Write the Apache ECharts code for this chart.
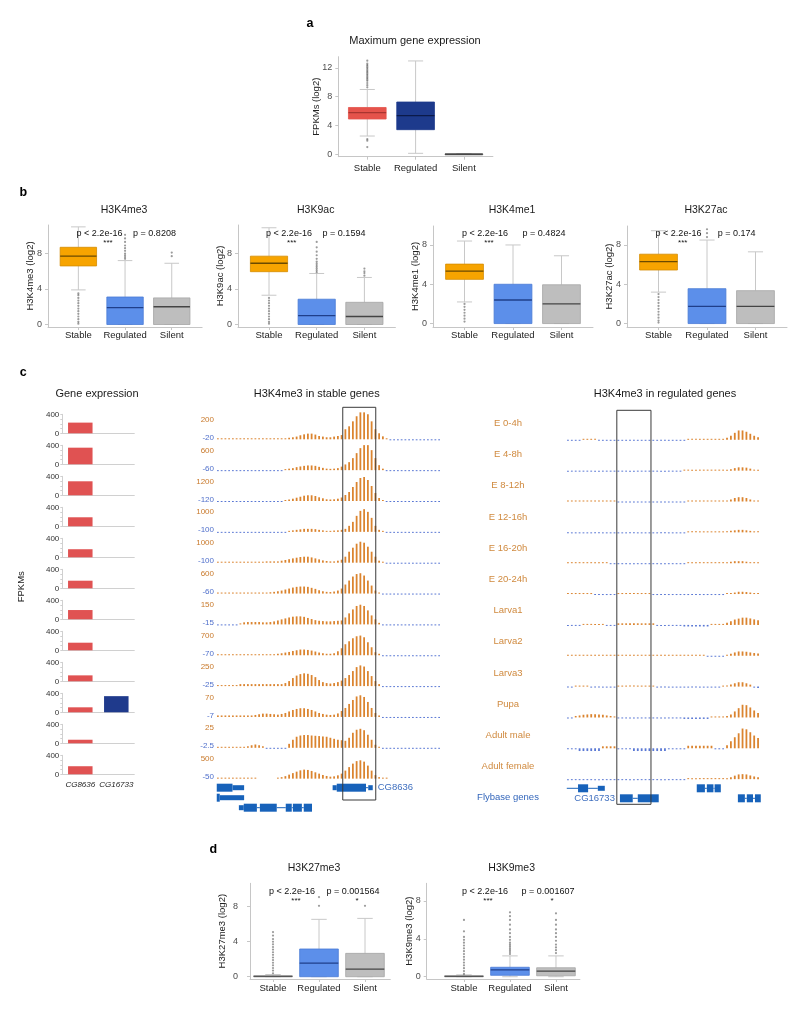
<!DOCTYPE html>
<html><head><meta charset="utf-8">
<script src="https://cdn.jsdelivr.net/npm/echarts@6/dist/echarts.min.js"></script>
<style>html,body{margin:0;padding:0;background:#fff}#c{width:800px;height:1011px}</style>
</head><body><div id="c"></div>
<script>
const FONT = '"Liberation Sans", Arial, Helvetica, sans-serif';

// ---------------- DATA ----------------
const boxCategories = ['Stable', 'Regulated', 'Silent'];

// panel a  [min, Q1, median, Q3, max]
const aTitle = 'Maximum gene expression';
const aStats = [[2.54, 4.9, 5.78, 6.5, 9.0], [0.14, 3.42, 5.36, 7.26, 12.96], [0, 0.01, 0.03, 0.06, 0.1]];
const aOutliers = [[9.3, 9.6, 9.9, 10.2, 10.4, 10.6, 10.8, 11.0, 11.2, 11.4, 11.6, 11.8, 12.0, 12.2, 12.4, 12.6, 13.0, 2.1, 1.9, 1.0], [], []];

// panel b
const bMarks = ['H3K4me3', 'H3K9ac', 'H3K4me1', 'H3K27ac'];
const bStats = [
  [[3.9, 6.6, 7.7, 8.7, 11.0], [0, 0, 1.9, 3.1, 7.2], [0, 0, 2.0, 3.0, 6.9]],
  [[3.3, 5.95, 6.9, 7.7, 10.9], [0, 0, 1.0, 2.85, 5.75], [0, 0, 0.9, 2.5, 5.3]],
  [[2.2, 4.5, 5.33, 6.05, 8.4], [0, 0, 2.4, 4.0, 8.0], [0, 0, 2.0, 3.95, 6.9]],
  [[3.2, 5.45, 6.3, 7.06, 9.45], [0, 0, 1.75, 3.55, 8.5], [0, 0, 1.75, 3.35, 7.3]]
];
const bOutliers = [
  [[3.5, 3.3, 3.0, 2.7, 2.4, 2.1, 1.8, 1.5, 1.2, 0.9, 0.6, 0.3, 0.1], [7.4, 7.6, 7.8, 8.0, 8.3, 8.6, 8.9, 9.3, 9.7, 10.1], [7.7, 8.1]],
  [[3.0, 2.7, 2.4, 2.1, 1.8, 1.5, 1.2, 0.9, 0.6, 0.3, 0.1], [5.9, 6.1, 6.3, 6.5, 6.7, 6.9, 7.1, 7.4, 7.8, 8.2, 8.7, 9.3], [5.5, 5.8, 6.0, 6.3]],
  [[2.0, 1.7, 1.4, 1.1, 0.8, 0.5, 0.2], [], []],
  [[3.0, 2.7, 2.4, 2.1, 1.8, 1.5, 1.2, 0.9, 0.6, 0.3, 0.1], [8.8, 9.2, 9.6], []]
];
const bPvalues = [['p < 2.2e-16', 'p = 0.8208'], ['p < 2.2e-16', 'p = 0.1594'], ['p < 2.2e-16', 'p = 0.4824'], ['p < 2.2e-16', 'p = 0.174']];
const bStars = ['***', '***', '***', '***'];

// panel c
const stages = ['E 0-4h', 'E 4-8h', 'E 8-12h', 'E 12-16h', 'E 16-20h', 'E 20-24h', 'Larva1', 'Larva2', 'Larva3', 'Pupa', 'Adult male', 'Adult female'];
const exprGenes = ['CG8636', 'CG16733'];
const exprCG8636 = [225, 350, 295, 190, 170, 160, 195, 160, 125, 105, 75, 170];
const exprCG16733 = [0, 0, 0, 0, 0, 0, 0, 0, 0, 340, 0, 0];
const trackMax = [200, 600, 1200, 1000, 1000, 600, 150, 700, 250, 70, 25, 500];
const trackMin = [-20, -60, -120, -100, -100, -60, -15, -70, -25, -7, -2.5, -50];

const stableTracks = [
 [4,4,4,4,4,4,4,4,4,4, 4,4,4,4,4,4,4,4,4,13, 17,23,34,42,48,48,40,28,23,17, 17,23,28,36,85,110,152,195,228,228, 212,152,85,51,25,8,-4,-4,-4,-4, -4,-4,-4,-4,-4,-4,-4,-4,-4,-4],
 [-12,-12,-12,-12,-12,-12,-12,-12,-12,-12, -12,-12,-12,-12,-12,-12,-12,-12,25,38, 51,76,94,109,119,119,109,84,58,38, 33,38,51,89,145,203,305,432,559,635, 635,508,305,127,38,-12,-12,-12,-12,-12, -12,-12,-12,-12,-12,-12,-12,-12,-12,-12],
 [-25,-25,-25,-25,-25,-25,-25,-25,-25,-25, -25,-25,-25,-25,-25,-25,-25,-25,51,76, 117,168,218,269,290,290,254,188,137,86, 76,86,117,178,305,457,711,965,1168,1219, 1067,762,406,152,51,-25,-25,-25,-25,-25, -25,-25,-25,-25,-25,-25,-25,-25,-25,-25],
 [-21,-21,-21,-21,-21,-21,-21,-21,-21,-21, -21,-21,-21,-21,-21,-21,-21,-21,-21,42, 63,85,106,127,127,127,114,85,63,42, 42,55,63,85,127,254,423,677,888,960, 846,592,254,85,42,-21,-21,-21,-21,-21, -21,-21,-21,-21,-21,-21,-21,-21,-21,-21],
 [42,42,42,42,42,42,42,42,42,42, 42,42,42,55,55,55,55,85,114,148, 182,212,241,254,254,224,182,140,97,72, 55,55,85,127,254,465,635,804,888,846, 677,465,254,85,42,-21,-21,-21,-21,-21, -21,-21,-21,-21,-21,-21,-21,-21,-21,-21],
 [25,25,25,25,25,25,25,25,25,25, 25,25,25,25,33,43,58,76,102,127, 152,170,178,178,170,145,119,84,58,43, 38,51,76,127,229,330,432,495,516,457, 330,203,76,25,-12,-12,-12,-12,-12,-12, -12,-12,-12,-12,-12,-12,-12,-12,-12,-12],
 [-3,-3,-3,-3,-3,-3,6,13,15,15, 15,15,13,13,15,19,25,32,38,44, 49,51,51,48,41,34,27,23,21,19, 19,21,23,25,44,70,95,117,125,117, 89,57,32,10,-3,-3,-3,-3,-3,-3, -3,-3,-3,-3,-3,-3,-3,-3,-3,-3],
 [15,15,15,15,15,15,15,15,15,15, 15,15,15,15,15,30,44,59,80,98, 127,148,169,169,157,139,110,80,59,44, 44,59,118,207,326,414,503,562,583,533, 385,237,89,44,-15,-15,-15,-15,-15,-15, -15,-15,-15,-15,-15,-15,-15,-15,-15,-15],
 [5,5,5,5,5,5,21,21,21,21, 21,21,21,21,21,21,21,21,32,53, 85,111,127,135,130,117,95,64,42,32, 27,32,42,58,85,117,159,201,219,207, 159,106,53,21,-5,-5,-5,-5,-5,-5, -5,-5,-5,-5,-5,-5,-5,-5,-5,-5],
 [4.4,4.4,4.4,4.4,4.4,4.4,4.4,4.4,4.4,4.4, 5.9,8,9.8,9.8,8.9,8,6.8,8.9,11.8,16.3, 20.7,23.7,25.8,25.8,23.7,20.7,16.3,11.8,8.9,6.8, 5.9,6.8,10.4,17.8,26.6,38.5,50.3,60.7,64.2,59.2, 44.4,26.6,11.8,4.4,-1.5,-1.5,-1.5,-1.5,-1.5,-1.5, -1.5,-1.5,-1.5,-1.5,-1.5,-1.5,-1.5,-1.5,-1.5,-1.5],
 [0.5,0.5,0.5,0.5,0.5,0.5,0.5,0.5,1.6,2.7, 3.5,2.7,1.6,-0.5,-0.5,-0.5,-0.5,-0.5,-0.5,4.2, 8.5,11.7,13,13.5,13.5,13,12.7,12.4,12,11.7, 10.6,9.5,8.5,8,7.4,10.6,15.9,19.1,20.1,18.6, 13.8,8.5,3.2,1.1,-0.5,-0.5,-0.5,-0.5,-0.5,-0.5, -0.5,-0.5,-0.5,-0.5,-0.5,-0.5,-0.5,-0.5,-0.5,-0.5],
 [10,10,10,10,10,10,10,10,10,10, 10,null,null,null,null,null,21,32,53,85, 117,148,176,191,184,163,134,106,78,57, 42,49,70,106,170,244,318,371,388,360, 276,170,74,32,10,10,null,null,null,null, null,null,null,null,null,null,null,null,null,null]
];

const regulatedTracks = [
 [-4,-4,-4,-4,4,8,8,4,-4,-4, -4,-4,-4,-4,-4,-4,-4,-4,-4,-4, -4,-4,-4,-4,-4,-4,-4,-4,-4,-4, -4,4,4,4,4,4,4,4,4,4, 4,17,34,59,79,79,68,51,34,21],
 [-12,-12,-12,-12,-12,-12,-12,-12,-12,-12, -12,-12,-12,-12,-12,-12,-12,-12,-12,-12, -12,-12,-12,-12,-12,-12,-12,-12,-12,-12, 12,12,12,12,12,12,12,12,12,12, 12,25,38,64,84,84,76,51,25,12],
 [25,25,25,25,25,25,25,25,25,25, 25,25,25,-25,-25,-25,-25,-25,-25,-25, -25,-25,-25,-25,-25,-25,-25,-25,-25,-25, -25,25,25,25,25,25,25,25,25,25, 25,51,102,178,218,218,178,102,51,25],
 [-21,-21,-21,-21,-21,-21,-21,-21,-21,-21, -21,-21,-21,-21,-21,-21,-21,-21,-21,-21, -21,-21,-21,-21,-21,-21,-21,-21,-21,-21, -21,21,21,21,21,21,21,21,21,21, 21,42,63,85,106,106,85,63,42,21],
 [30,30,30,30,30,30,30,30,30,30, 30,-21,-21,-21,-21,-21,-21,-21,-21,-21, -21,-21,-21,-21,-21,-21,-21,-21,-21,-21, -21,21,21,21,21,21,21,21,21,21, 21,42,63,85,85,85,63,42,21,21],
 [15,15,15,15,15,15,15,-12,-12,-12, -12,-12,-12,12,12,12,12,12,12,12, 12,12,-12,-12,-12,-12,-12,-12,-12,-12, -12,-12,-12,-12,-12,-12,-12,-12,-12,-12, -12,12,25,38,58,58,51,38,25,12],
 [-3,-3,-3,-3,6,6,6,6,6,6, -3,-3,-3,10,10,10,10,10,10,10, 10,10,10,-3,-3,-3,-3,-3,-3,-3, -10,-10,-10,-10,-10,-10,-10,5,5,5, 5,13,23,34,40,46,46,41,35,29],
 [15,15,15,15,15,15,15,15,15,15, 15,15,15,15,15,15,15,15,15,15, 15,15,15,15,15,15,15,15,15,15, 15,15,15,15,15,15,-15,-15,-15,-15, -15,30,59,98,127,127,118,98,80,68],
 [-5,-5,5,5,5,5,-5,-5,-5,-5, -5,-5,-5,5,5,5,5,5,5,5, 5,5,5,-5,-5,-5,-5,-5,-5,-5, -5,-5,-5,-5,-5,-5,-5,-5,-5,-5, 5,11,21,35,46,46,35,21,-11,-14],
 [-1.5,-1.5,4.4,5.9,8,8.9,9.8,9.8,8.9,8, 5.9,4.4,3,-1.5,-1.5,-1.5,-1.5,-1.5,-1.5,-1.5, -1.5,-1.5,-1.5,-1.5,-1.5,-1.5,-1.5,-1.5,-1.5,-1.5, -4.4,-4.4,-4.4,-4.4,-4.4,-4.4,-4.4,1.5,1.5,1.5, 1.5,4.4,8.9,17.8,27.5,37.6,36.4,29.6,20.7,13.3],
 [-0.5,-0.5,-0.5,-2.9,-2.9,-2.9,-2.9,-2.9,-2.9,2.1, 2.1,2.1,2.1,-0.5,-0.5,-0.5,-0.5,-2.9,-2.9,-2.9, -2.9,-2.9,-2.9,-2.9,-2.9,-2.9,-0.5,-0.5,-0.5,-0.5, -0.5,2.7,2.7,2.7,2.7,2.7,2.7,2.7,-0.5,-0.5, -0.5,3.2,7.4,11.7,15.9,20.9,20.1,17,13.5,10.9],
 [-10,-10,-10,-10,-10,-10,-10,-10,-10,-10, -10,-10,-10,-10,-10,-10,-10,-10,-10,-10, -10,-10,-10,-10,-10,-10,-10,-10,-10,-10, -10,10,10,10,10,10,10,10,10,10, 10,21,42,74,100,106,100,78,57,42]
];

// gene models: [start bin, end bin, row, kind] kind 0 = coding block, 1 = UTR, 2 = intron
const stableGenes = [
  [-0.3, 3.9, 0, 0], [3.9, 7, 0, 1], [30.6, 31.7, 0, 1], [31.7, 39.5, 0, 0], [39.5, 40.1, 0, 2], [40.1, 41.3, 0, 1],
  [-0.3, 0.5, 1, 0], [0.5, 7, 1, 1],
  [5.6, 6.9, 2, 1], [6.9, 10.4, 2, 0], [10.4, 11.2, 2, 2], [11.2, 15.7, 2, 0], [15.7, 18.1, 2, 2], [18.1, 19.7, 2, 0],
  [19.7, 20, 2, 2], [20, 22.4, 2, 0], [22.4, 22.9, 2, 2], [22.9, 25.1, 2, 0]
];
const regulatedGenes = [
  [-0.3, 2.6, 0, 2], [2.6, 5.2, 0, 0], [5.2, 7.7, 0, 2], [7.7, 9.5, 0, 1],
  [33.2, 35.3, 0, 0], [35.3, 35.8, 0, 2], [35.8, 37.5, 0, 0], [37.5, 37.8, 0, 2], [37.8, 39.4, 0, 0],
  [13.4, 16.7, 1, 0], [16.7, 18.0, 1, 2], [18.0, 23.4, 1, 0],
  [43.8, 45.6, 1, 0], [45.6, 46.1, 1, 2], [46.1, 47.7, 1, 0], [47.7, 48.2, 1, 2], [48.2, 49.7, 1, 0]
];
const stableGeneLabels = [['CG8636', 41.3, 0, 'right']];
const regulatedGeneLabels = [['CG16733', 13.4, 1, 'left']];
const stableWindow = [33.3, 42.1];
const regulatedWindow = [12.6, 21.4];

// panel d
const dMarks = ['H3K27me3', 'H3K9me3'];
const dStats = [
  [[0, 0, 0.04, 0.1, 0.25], [0, 0, 1.55, 3.17, 6.56], [0, 0, 0.88, 2.67, 6.67]],
  [[0, 0, 0.04, 0.1, 0.2], [0, 0.15, 0.72, 1.0, 2.2], [0, 0.1, 0.6, 0.95, 2.2]]
];
const dOutliers = [
  [[0.4, 0.7, 1.0, 1.3, 1.6, 1.9, 2.2, 2.5, 2.8, 3.1, 3.4, 3.7, 4.0, 4.3, 4.7, 5.1], [8.1, 9.1], [8.1]],
  [[0.3, 0.6, 0.9, 1.2, 1.5, 1.8, 2.1, 2.4, 2.7, 3.0, 3.3, 3.6, 3.9, 4.2, 4.8, 6.0],
   [2.4, 2.6, 2.8, 3.0, 3.2, 3.4, 3.6, 3.9, 4.2, 4.6, 5.0, 5.5, 6.0, 6.4, 6.8],
   [2.5, 2.8, 3.1, 3.4, 3.8, 4.2, 4.6, 5.0, 5.5, 6.0, 6.7]]
];
const dPvalues = [['p < 2.2e-16', 'p = 0.001564'], ['p < 2.2e-16', 'p = 0.001607']];
const dStars = [['***', '*'], ['***', '*']];

// ---------------- STYLE ----------------
const AXIS_GRAY = '#C6C6C6';
const WHISKER = '#C8C8C8';
const TRACK_OR = '#DB842F';
const TRACK_BL = '#5A78D4';
const LBL_OR = '#C97A2C';
const LBL_BL = '#4F6FCB';
const GENE_BLUE = '#1762BA';
const colA = [{fill: '#E5534B', stroke: '#E5534B', med: '#A83530'}, {fill: '#1D3A8C', stroke: '#1D3A8C', med: '#0B1A4A'}, {fill: '#9A9A9A', stroke: '#777', med: '#333'}];
const colB = [{fill: '#F7A400', stroke: '#D48C00', med: '#6B4A00'}, {fill: '#5C8FEA', stroke: '#4A7BD6', med: '#1F3F8A'}, {fill: '#BEBEBE', stroke: '#A6A6A6', med: '#444'}];
const colD = [{fill: '#BDBDBD', stroke: '#8A8A8A', med: '#555'}, colB[1], colB[2]];

const option = {animation: false, backgroundColor: '#fff', textStyle: {fontFamily: FONT},
  grid: [], xAxis: [], yAxis: [], series: [], graphic: {elements: []}};
let gi = 0;
function addGrid(g, xa, ya) {
  option.grid.push(g); xa.gridIndex = gi; ya.gridIndex = gi;
  option.xAxis.push(xa); option.yAxis.push(ya); return gi++;
}
function txt(text, x, y, o) {
  o = o || {};
  option.graphic.elements.push({type: 'text', x: x, y: y, rotation: o.rot || 0, silent: true, z: 50,
    style: {text: text, fill: o.color || '#1a1a1a', fontSize: o.size || 9.5, fontFamily: FONT,
      fontWeight: o.bold ? 'bold' : 'normal', fontStyle: o.italic ? 'italic' : 'normal',
      align: 'center', verticalAlign: 'middle', textAlign: 'center', textVerticalAlign: 'middle'}});
}

function boxRenderer(colors, boxW) {
  return function (params, api) {
    const x = api.value(0);
    const c = colors[api.value(6)];
    const lo = api.coord([x, api.value(1)]), q1 = api.coord([x, api.value(2)]), md = api.coord([x, api.value(3)]),
          q3 = api.coord([x, api.value(4)]), hi = api.coord([x, api.value(5)]);
    const w = api.size([boxW, 0])[0];
    const cx = lo[0];
    const ws = {stroke: WHISKER, lineWidth: 1};
    return {type: 'group', children: [
      {type: 'line', shape: {x1: cx, y1: hi[1], x2: cx, y2: q3[1]}, style: ws},
      {type: 'line', shape: {x1: cx, y1: q1[1], x2: cx, y2: lo[1]}, style: ws},
      {type: 'line', shape: {x1: cx - w / 5, y1: hi[1], x2: cx + w / 5, y2: hi[1]}, style: ws},
      {type: 'line', shape: {x1: cx - w / 5, y1: lo[1], x2: cx + w / 5, y2: lo[1]}, style: ws},
      {type: 'rect', shape: {x: cx - w / 2, y: q3[1], width: w, height: Math.max(q1[1] - q3[1], 1)},
        style: {fill: c.fill, stroke: c.stroke, lineWidth: 0.8}},
      {type: 'line', shape: {x1: cx - w / 2, y1: md[1], x2: cx + w / 2, y2: md[1]}, style: {stroke: c.med, lineWidth: 1.3}}
    ]};
  };
}

function boxPanel(p) {
  const idx = addGrid({left: p.left, top: p.top, width: p.width, height: p.height},
    {type: 'value', min: p.xMin, max: p.xMax, splitLine: {show: false},
      axisLine: {show: true, onZero: false, lineStyle: {color: AXIS_GRAY}},
      axisTick: {show: true, length: 3, customValues: [1, 2, 3], lineStyle: {color: AXIS_GRAY}},
      axisLabel: {customValues: [1, 2, 3], formatter: v => boxCategories[Math.round(v) - 1] || '',
        fontSize: 9.5, color: '#222', margin: p.xMargin, fontFamily: FONT}},
    {type: 'value', min: p.yMin, max: p.yMax, splitLine: {show: false},
      axisLine: {show: true, onZero: false, lineStyle: {color: AXIS_GRAY}},
      axisTick: {show: true, length: 3, customValues: p.yTicks, lineStyle: {color: AXIS_GRAY}},
      axisLabel: {customValues: p.yTicks, fontSize: 9, color: '#4D4D4D', margin: p.yMargin, fontFamily: FONT}});
  option.series.push({type: 'custom', xAxisIndex: idx, yAxisIndex: idx, silent: true, z: 2,
    renderItem: boxRenderer(p.colors, p.boxW), encode: {x: 0, y: [1, 2, 3, 4, 5]},
    data: p.stats.map((s, i) => [i + 1].concat(s).concat([i]))});
  const pts = [];
  p.outliers.forEach((arr, i) => arr.forEach(v => pts.push([i + 1, v])));
  option.series.push({type: 'scatter', xAxisIndex: idx, yAxisIndex: idx, data: pts, symbolSize: 2.2, silent: true, z: 3,
    itemStyle: {color: 'rgba(45,45,45,0.6)'}});
  txt(p.yName, p.left - p.nameGap, p.top + p.height / 2, {rot: Math.PI / 2, size: 9.5, color: '#222'});
}

// ---------------- PANEL A ----------------
txt('a', 310, 24, {bold: true, size: 12.5, color: '#000'});
txt(aTitle, 415, 40.7, {size: 11});
boxPanel({left: 338.3, top: 56.7, width: 154.6, height: 100, xMin: 0.4, xMax: 3.6, yMin: -0.33, yMax: 13.55,
  yTicks: [0, 4, 8, 12], stats: aStats, outliers: aOutliers, colors: colA, boxW: 0.78, xMargin: 7, yMargin: 6,
  yName: 'FPKMs (log2)', nameGap: 21.6});

// ---------------- PANEL B ----------------
txt('b', 23.3, 193, {bold: true, size: 12.5, color: '#000'});
const bLayout = [
  {left: 48, width: 154.1, top: 225, height: 102, yMin: -0.28, yMax: 11.21, pX: [99.5, 154.5], sX: 108},
  {left: 238, width: 157.4, top: 225, height: 102, yMin: -0.28, yMax: 11.21, pX: [289, 344], sX: 291.7},
  {left: 433, width: 160, top: 226, height: 101, yMin: -0.35, yMax: 9.93, pX: [485, 544], sX: 489},
  {left: 627, width: 160, top: 226, height: 101, yMin: -0.35, yMax: 9.93, pX: [678.5, 736.7], sX: 682.7}
];
bMarks.forEach((m, k) => {
  const L = bLayout[k];
  txt(m, L.left + L.width / 2 - 1, 210, {size: 10.5});
  boxPanel({left: L.left, top: L.top, width: L.width, height: L.height, xMin: 0.35, xMax: 3.65, yMin: L.yMin, yMax: L.yMax,
    yTicks: [0, 4, 8], stats: bStats[k], outliers: bOutliers[k], colors: colB, boxW: 0.78, xMargin: 3.5, yMargin: 6,
    yName: m + ' (log2)', nameGap: 18});
  txt(bPvalues[k][0], L.pX[0], 234, {size: 9, color: '#111'});
  txt(bPvalues[k][1], L.pX[1], 234, {size: 9, color: '#111'});
  txt(bStars[k], L.sX, 243, {size: 8, color: '#111'});
});

// ---------------- PANEL C ----------------
txt('c', 23.3, 372.7, {bold: true, size: 12.5, color: '#000'});
txt('Gene expression', 97, 394.3, {size: 11});
txt('FPKMs', 21.7, 586.7, {rot: Math.PI / 2, size: 9.5, color: '#222'});
txt('H3K4me3 in stable genes', 316.7, 394, {size: 11});
txt('H3K4me3 in regulated genes', 665, 394, {size: 11});

// gene expression small multiples
stages.forEach((s, i) => {
  const idx = addGrid({left: 62.3, top: 414.3 + 31 * i, width: 72, height: 19},
    {type: 'category', data: exprGenes, axisLine: {show: true, lineStyle: {color: '#D0D0D0'}}, axisTick: {show: false},
      axisLabel: {show: i === stages.length - 1, interval: 0, hideOverlap: false, fontStyle: 'italic', fontSize: 8, color: '#222', margin: 6, fontFamily: FONT}},
    {type: 'value', min: 0, max: 400, interval: 100, splitLine: {show: false},
      axisLine: {show: true, lineStyle: {color: '#D0D0D0'}}, axisTick: {show: true, length: 2, lineStyle: {color: '#D0D0D0'}},
      axisLabel: {fontSize: 8, color: '#333', margin: 3, fontFamily: FONT, formatter: v => (v === 0 || v === 400) ? String(v) : ''}});
  option.series.push({type: 'bar', xAxisIndex: idx, yAxisIndex: idx, barWidth: 24.5, silent: true,
    data: [{value: exprCG8636[i], itemStyle: {color: '#E05252'}}, {value: exprCG16733[i], itemStyle: {color: '#1F3A8C'}}]});
});

// signal tracks
const TRACK_H = 26;
function trackPanel(left, width, base, max, min, data, showLabels) {
  const top = base - TRACK_H * max / (max - min);
  const idx = addGrid({left: left, top: top, width: width, height: TRACK_H},
    {type: 'category', data: data.map((_, j) => j), show: false},
    {type: 'value', min: min, max: max, splitLine: {show: false}, axisLine: {show: false}, axisTick: {show: false},
      axisLabel: {show: showLabels, customValues: [min, max], fontSize: 8, margin: 2, fontFamily: FONT,
        verticalAlignMaxLabel: 'top', verticalAlignMinLabel: 'bottom',
        formatter: v => String(v), color: v => v >= 0 ? LBL_OR : LBL_BL}});
  option.series.push({type: 'bar', xAxisIndex: idx, yAxisIndex: idx, data: data, barWidth: 1.8, barMinHeight: 1,
    clip: false, silent: true, itemStyle: {color: p => (p.value >= 0 ? TRACK_OR : TRACK_BL)}});
}
const BASE0 = 439.3, STEP = 30.85;
stableTracks.forEach((d, i) => trackPanel(216, 225, BASE0 + STEP * i, trackMax[i], trackMin[i], d, true));
regulatedTracks.forEach((d, i) => trackPanel(566, 194, BASE0 + 0.5 + STEP * i, trackMax[i], trackMin[i], d, false));

stages.forEach((s, i) => txt(s, 508, 423.3 + 31.2 * i, {size: 9.5, color: '#D08A3F'}));
txt('Flybase genes', 508, 797.7, {size: 9.5, color: '#3366BB'});

// gene models
function geneRender(params, api) {
  const p1 = api.coord([api.value(0), api.value(2)]);
  const p2 = api.coord([api.value(1), api.value(2)]);
  const kind = api.value(3);
  if (kind === 2) return {type: 'line', shape: {x1: p1[0], y1: p1[1], x2: p2[0], y2: p2[1]}, style: {stroke: GENE_BLUE, lineWidth: 1}};
  const h = kind === 0 ? 8 : 5;
  return {type: 'rect', shape: {x: p1[0], y: p1[1] - h / 2, width: p2[0] - p1[0], height: h}, style: {fill: GENE_BLUE}};
}
function genePanel(left, width, top, rows, nb, genes, labels) {
  const idx = addGrid({left: left, top: top, width: width, height: rows * 10},
    {type: 'value', min: -0.5, max: nb - 0.5, show: false},
    {type: 'value', min: -0.5, max: rows - 0.5, inverse: true, show: false});
  option.series.push({type: 'custom', xAxisIndex: idx, yAxisIndex: idx, silent: true, renderItem: geneRender,
    encode: {x: [0, 1], y: 2}, data: genes});
  option.series.push({type: 'custom', xAxisIndex: idx, yAxisIndex: idx, silent: true,
    encode: {x: 1, y: 2}, data: labels.map(l => [l[0], l[1], l[2], l[3] === 'right' ? 1 : -1]),
    renderItem: function (params, api) {
      const lab = labels[params.dataIndex];
      const p = api.coord([api.value(1), api.value(2)]);
      const dir = api.value(3);
      return {type: 'text', x: p[0] + dir * 5, y: p[1],
        style: {text: lab[0], fill: '#3F6FBF', fontSize: 9.5, fontFamily: FONT,
          align: dir > 0 ? 'left' : 'right', textAlign: dir > 0 ? 'left' : 'right', verticalAlign: 'middle', textVerticalAlign: 'middle'}};
    }});
}
genePanel(216, 225, 782.7, 3, 60, stableGenes, stableGeneLabels);
genePanel(566, 194, 783.3, 2, 50, regulatedGenes, regulatedGeneLabels);

// highlighted window boxes
function windowBox(left, width, top, height, nb, win) {
  const idx = addGrid({left: left, top: top, width: width, height: height},
    {type: 'value', min: -0.5, max: nb - 0.5, show: false},
    {type: 'value', min: 0, max: 1, show: false});
  option.series.push({type: 'custom', xAxisIndex: idx, yAxisIndex: idx, silent: true, z: 10, encode: {x: [0, 1]},
    data: [win], renderItem: function (params, api) {
      const a = api.coord([api.value(0), 1]), b = api.coord([api.value(1), 0]);
      return {type: 'rect', shape: {x: a[0], y: a[1], width: b[0] - a[0], height: b[1] - a[1]},
        style: {fill: 'none', stroke: '#3A3A3A', lineWidth: 1}};
    }});
}
windowBox(216, 225, 407.3, 392.7, 60, stableWindow);
windowBox(566, 194, 410.3, 394, 50, regulatedWindow);

// ---------------- PANEL D ----------------
txt('d', 213.3, 850, {bold: true, size: 12.5, color: '#000'});
const dLayout = [
  {left: 250, width: 140.3, xMin: 0.5, xMax: 3.55, yMin: -0.26, yMax: 10.68, yMargin: 12, nameGap: 27.5, tX: 314,
    pX: [292, 353], sX: [296, 357]},
  {left: 426.7, width: 153.2, xMin: 0.19, xMax: 3.52, yMin: -0.24, yMax: 9.87, yMargin: 6, nameGap: 17.5, tX: 511.7,
    pX: [485, 548], sX: [488, 552]}
];
dMarks.forEach((m, k) => {
  const L = dLayout[k];
  txt(m, L.tX, 868, {size: 10.5});
  boxPanel({left: L.left, top: 883.3, width: L.width, height: 95.7, xMin: L.xMin, xMax: L.xMax, yMin: L.yMin, yMax: L.yMax,
    yTicks: [0, 4, 8], stats: dStats[k], outliers: dOutliers[k], colors: colD, boxW: 0.84, xMargin: 4, yMargin: L.yMargin,
    yName: m + ' (log2)', nameGap: L.nameGap});
  txt(dPvalues[k][0], L.pX[0], 892, {size: 9, color: '#111'});
  txt(dPvalues[k][1], L.pX[1], 892, {size: 9, color: '#111'});
  txt(dStars[k][0], L.sX[0], 901, {size: 8, color: '#111'});
  txt(dStars[k][1], L.sX[1], 901, {size: 8, color: '#111'});
});

const chart = echarts.init(document.getElementById('c'), null, {renderer: 'canvas', width: 800, height: 1011});
chart.setOption(option);
</script>
</body></html>
